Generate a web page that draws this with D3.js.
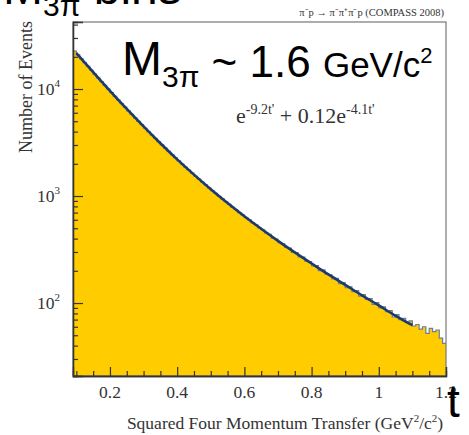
<!DOCTYPE html>
<meta charset="utf-8">
<style>
body { margin: 0; background: #fff; }
svg text { font-family: "Liberation Serif", "Times New Roman", serif; fill: #333; }
svg text.big { font-family: "Liberation Sans", Arial, sans-serif; fill: #000; }
</style>
<body>
<div id="chart"></div>
<script src="https://d3js.org/d3.v7.min.js"></script>
<script>

// histogram bins, 0.01 wide, first bin starts at t = 0.09
var binStart = 0.09;
var binWidth = 0.01;
var counts = [
  22640, 20820, 19160, 17640, 16250, 14970, 13790, 12720, 11730, 10830,
  10000, 9240, 8540, 7900, 7300, 6760, 6260, 5800, 5380, 4990,
  4640, 4300, 4000, 3720, 3460, 3220, 3000, 2800, 2610, 2440,
  2280, 2130, 1990, 1860, 1750, 1640, 1530, 1440, 1350, 1270,
  1190, 1120, 1060, 995, 940, 885, 838, 785, 748, 700,
  668, 628, 598, 562, 537, 503, 484, 452, 438, 405,
  396, 366, 358, 331, 326, 298, 296, 270, 268, 246,
  244, 222, 224, 201, 204, 186, 184, 168, 170, 152,
  155, 139, 142, 128, 131, 116, 120, 108, 110, 97,
  101, 90, 92, 83, 85, 74, 78, 70, 72, 66,
  68, 61, 63, 57, 60, 52, 58, 54, 56, 47,
  42
];

// fit curve e^-9.2t' + 0.12 e^-4.1t', read at every 0.05
var fitT = [0.10, 0.15, 0.20, 0.25, 0.30, 0.35, 0.40, 0.45, 0.50, 0.55, 0.60,
            0.65, 0.70, 0.75, 0.80, 0.85, 0.90, 0.95, 1.00, 1.05, 1.10];
var fitN = [21700, 14370, 9610, 6510, 4470, 3110, 2200, 1584, 1158, 859, 647,
            494, 381, 297, 234, 185, 148, 118, 95, 76, 62];

var xTicks = [0.2, 0.4, 0.6, 0.8, 1, 1.2];
var xTickLabels = ["0.2", "0.4", "0.6", "0.8", "1", "1.2"];
var yTicks = [100, 1000, 10000];
var yTickExp = ["2", "3", "4"];

var W = 469, H = 435;
var pLeft = 73, pRight = 446, pTop = 22, pBottom = 376;

var svg = d3.select("#chart").append("svg")
  .attr("width", W).attr("height", H);

var x = d3.scaleLinear().domain([0.09, 1.2]).range([pLeft, pRight]);
var y = d3.scaleLog().domain([20.8, 42300]).range([pBottom, pTop]);

svg.append("clipPath").attr("id", "clip")
  .append("rect").attr("x", pLeft).attr("y", pTop)
  .attr("width", pRight - pLeft).attr("height", pBottom - pTop);

var bins = counts.map(function (c, i) { return { t: binStart + i * binWidth, v: c }; });
bins.push({ t: binStart + counts.length * binWidth, v: counts[counts.length - 1] });

var plot = svg.append("g").attr("clip-path", "url(#clip)");

plot.append("path")
  .datum(bins)
  .attr("fill", "#ffcc00")
  .attr("d", d3.area().curve(d3.curveStepAfter)
    .x(function (d) { return x(d.t); })
    .y0(pBottom)
    .y1(function (d) { return y(d.v); }));

plot.append("path")
  .datum(bins)
  .attr("fill", "none")
  .attr("stroke", "#6d7b9c")
  .attr("stroke-width", 1.2)
  .attr("d", d3.line().curve(d3.curveStepAfter)
    .x(function (d) { return x(d.t); })
    .y(function (d) { return y(d.v); }));

plot.append("path")
  .datum(d3.zip(fitT, fitN))
  .attr("fill", "none")
  .attr("stroke", "#1d3a6c")
  .attr("stroke-width", 2.6)
  .attr("d", d3.line().curve(d3.curveMonotoneX)
    .x(function (d) { return x(d[0]); })
    .y(function (d) { return y(d[1]); }));

// frame
svg.append("rect")
  .attr("x", pLeft).attr("y", pTop)
  .attr("width", pRight - pLeft).attr("height", pBottom - pTop)
  .attr("fill", "none").attr("stroke", "#777").attr("stroke-width", 1.2);

// y axis: major + minor ticks inside
var yMinor = y.ticks().filter(function (v) { return yTicks.indexOf(v) < 0; });
var yAxis = svg.append("g").attr("transform", "translate(" + pLeft + ",0)");
yAxis.call(d3.axisLeft(y).tickValues(yTicks).tickSize(-10).tickFormat(""));
yAxis.append("g").call(d3.axisLeft(y).tickValues(yMinor).tickSize(-5).tickFormat(""));
yAxis.selectAll(".domain").attr("stroke", "#333").attr("stroke-width", 1.3);
yAxis.selectAll(".tick line").attr("stroke", "#333").attr("stroke-width", 1.2);

var yLab = svg.append("g").selectAll("text")
  .data(yTicks).enter().append("text")
  .attr("x", 60).attr("y", function (d) { return y(d) + 6; })
  .attr("text-anchor", "end")
  .style("font-size", "17.5px");
yLab.append("tspan").text("10");
yLab.append("tspan").attr("dy", -8).style("font-size", "11px")
  .text(function (d, i) { return yTickExp[i]; });

// x axis: major + minor ticks inside
var xMinor = d3.range(0.1, 1.2001, 0.05).map(function (v) { return +v.toFixed(2); })
  .filter(function (v) { return xTicks.indexOf(v) < 0; });
var xAxis = svg.append("g").attr("transform", "translate(0," + pBottom + ")");
xAxis.call(d3.axisBottom(x).tickValues(xTicks).tickSize(-9).tickFormat(""));
xAxis.append("g").call(d3.axisBottom(x).tickValues(xMinor).tickSize(-5).tickFormat(""));
xAxis.selectAll(".domain").attr("stroke", "#333").attr("stroke-width", 1.3);
xAxis.selectAll(".tick line").attr("stroke", "#333").attr("stroke-width", 1.2);

svg.append("g").selectAll("text")
  .data(xTicks).enter().append("text")
  .attr("x", function (d) { return x(d); })
  .attr("y", pBottom + 22)
  .attr("text-anchor", "middle")
  .style("font-size", "17.5px")
  .text(function (d, i) { return xTickLabels[i]; });

// axis titles
var xt = svg.append("text")
  .attr("x", 285).attr("y", 429)
  .attr("text-anchor", "middle")
  .style("font-size", "17.5px");
xt.append("tspan").text("Squared Four Momentum Transfer (GeV");
xt.append("tspan").attr("dy", -7).style("font-size", "11px").text("2");
xt.append("tspan").attr("dy", 7).text("/c");
xt.append("tspan").attr("dy", -7).style("font-size", "11px").text("2");
xt.append("tspan").attr("dy", 7).text(")");

svg.append("text")
  .attr("transform", "translate(32,87) rotate(-90)")
  .attr("text-anchor", "middle")
  .style("font-size", "18px")
  .text("Number of Events");

// reaction label
svg.append("text")
  .attr("x", 444).attr("y", 16)
  .attr("text-anchor", "end")
  .style("font-size", "10.5px")
  .text("π\u207Bp → π\u207Bπ\u207Aπ\u207Bp (COMPASS 2008)");

// fit formula
var ff = svg.append("text").attr("x", 236).attr("y", 123).style("font-size", "22px");
ff.append("tspan").text("e");
ff.append("tspan").attr("dy", -9).style("font-size", "14px").text("-9.2t'");
ff.append("tspan").attr("dy", 9).text(" + 0.12e");
ff.append("tspan").attr("dy", -9).style("font-size", "14px").text("-4.1t'");

// slide annotations
function massLabel(x0, y0) {
  var t = svg.append("text").attr("class", "big").attr("x", x0).attr("y", y0)
    .style("font-size", "48px");
  t.append("tspan").text("M");
  t.append("tspan").attr("dy", 12).style("font-size", "30px").text("3π");
  return t;
}
massLabel(3, 4).append("tspan").attr("dy", -12).text(" bins");

var m = massLabel(122, 75);
m.append("tspan").attr("dy", -10).style("font-size", "44px").text(" ~ 1.6 ");
m.append("tspan").style("font-size", "35px").text("GeV/c");
m.append("tspan").attr("dy", -14).style("font-size", "22px").text("2");

svg.append("text").attr("class", "big")
  .attr("x", 447).attr("y", 417)
  .style("font-size", "46px")
  .text("t");

</script>
</body>
